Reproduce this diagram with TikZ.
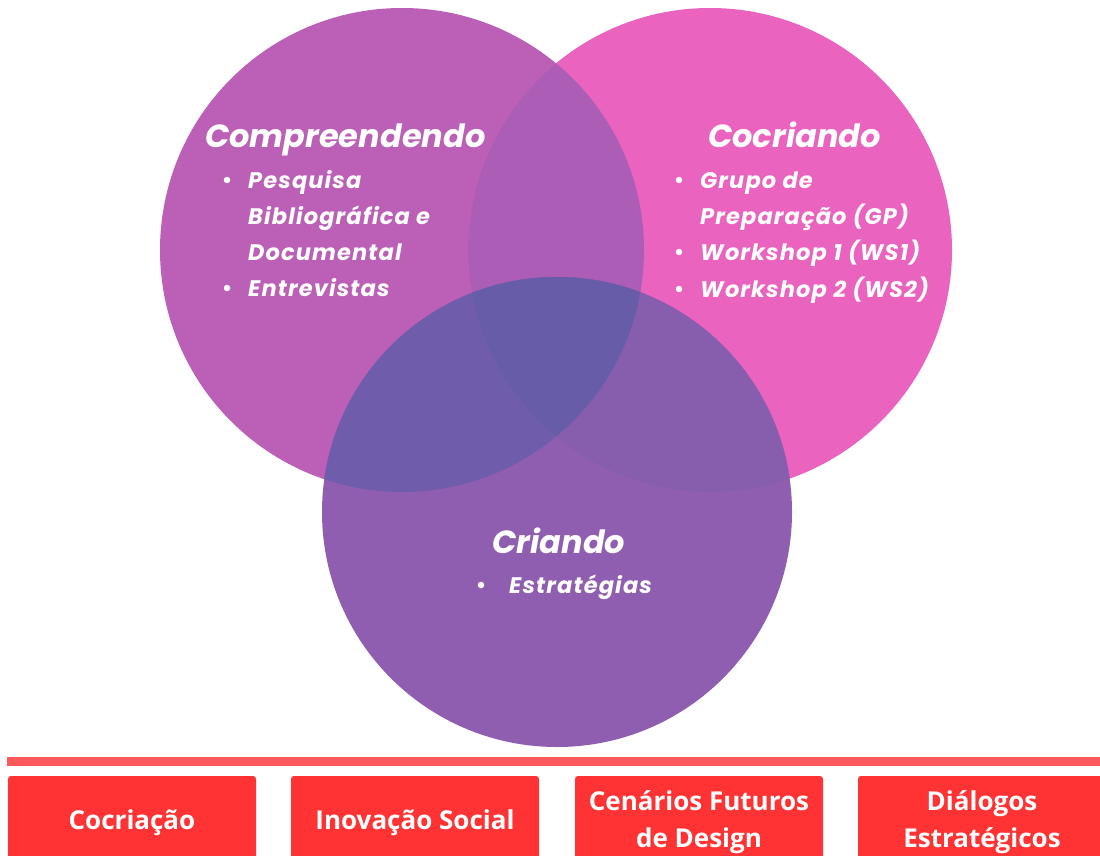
\documentclass[tikz,border=0pt]{standalone}
\usepackage{fontspec}
\setmainfont{Poppins}
\newfontfamily\itemfont{Poppins}[LetterSpace=5]
\newfontfamily\boxfont{Open Sans}
\definecolor{cL}{HTML}{BB60B6}
\definecolor{cR}{HTML}{E963BF}
\definecolor{cB}{HTML}{905EB1}
\definecolor{cLR}{HTML}{AC5EB7}
\definecolor{cLB}{HTML}{6F5DAB}
\definecolor{cRB}{HTML}{875EAE}
\definecolor{cLRB}{HTML}{675CA8}
\definecolor{barRed}{HTML}{FF585C}
\definecolor{boxRed}{HTML}{FF3333}
\tikzset{
  title/.style={anchor=base west, inner sep=0pt, text=white, font=\fontsize{32}{36}\selectfont\bfseries\itshape},
  item/.style={anchor=base west, inner sep=0pt, text=white, font=\itemfont\fontsize{22.5}{36}\selectfont\bfseries\itshape},
  bul/.style={circle, fill=white, inner sep=0pt, minimum size=6.5pt},
  redbox/.style={fill=boxRed, rounded corners=3pt, minimum width=248pt, minimum height=86pt, inner sep=0pt},
  boxtext/.style={anchor=base, inner sep=0pt, text=white, font=\boxfont\fontsize{26}{37}\selectfont\bfseries}
}
\begin{document}
\begin{tikzpicture}[x=1pt,y=-1pt]
\clip (0,0) rectangle (1100,856);
\fill[white] (0,0) rectangle (1100,856);
\coordinate (L) at (402,250);
\coordinate (R) at (710,250);
\coordinate (B) at (557,512);
\def\rL{242pt}
\def\rB{235pt}
% circles
\fill[cL] (L) circle[radius=\rL];
\fill[cR] (R) circle[radius=\rL];
\begin{scope}
  \clip (L) circle[radius=\rL];
  \fill[cLR] (R) circle[radius=\rL];
\end{scope}
\fill[cB] (B) circle[radius=\rB];
\begin{scope}
  \clip (L) circle[radius=\rL];
  \fill[cLB] (B) circle[radius=\rB];
\end{scope}
\begin{scope}
  \clip (R) circle[radius=\rL];
  \fill[cRB] (B) circle[radius=\rB];
\end{scope}
\begin{scope}
  \clip (L) circle[radius=\rL];
  \clip (R) circle[radius=\rL];
  \fill[cLRB] (B) circle[radius=\rB];
\end{scope}
% left texts
\node[title] (tL) at (205,148) {Compreendendo};
\node[bul] (bL1) at (227,180) {};
\node[item] (iL1) at (248,188) {Pesquisa};
\node[item] (iL2) at (248,224) {Bibliográfica e};
\node[item] (iL3) at (248,260) {Documental};
\node[bul] (bL2) at (227,288) {};
\node[item] (iL4) at (248,296) {Entrevistas};
% right texts
\node[title] (tR) at (708,148) {Cocriando};
\node[bul] (bR1) at (679,180) {};
\node[item] (iR1) at (700,188) {Grupo de};
\node[item] (iR2) at (700,224) {Preparação (GP)};
\node[bul] (bR2) at (679,252) {};
\node[item] (iR3) at (700,260) {Workshop 1 (WS1)};
\node[bul] (bR3) at (679,289) {};
\node[item] (iR4) at (700,297) {Workshop 2 (WS2)};
% bottom texts
\node[title] (tB) at (492,553) {Criando};
\node[bul] (bB1) at (481,585) {};
\node[item] (iB1) at (509,593) {Estratégias};
% bar
\fill[barRed] (7,757) rectangle (1100,766);
% boxes
\node[redbox] (b1) at (132,819) {};
\node[redbox] (b2) at (415,819) {};
\node[redbox] (b3) at (699,819) {};
\node[redbox] (b4) at (982,819) {};
\node[boxtext] (t1) at (132,829) {Cocriação};
\node[boxtext] (t2) at (415,829) {Inovação Social};
\node[boxtext] (t3a) at (699,810) {Cenários Futuros};
\node[boxtext] (t3b) at (699,847) {de Design};
\node[boxtext] (t4a) at (982,810) {Diálogos};
\node[boxtext] (t4b) at (982,847) {Estratégicos};
\end{tikzpicture}
\end{document}
